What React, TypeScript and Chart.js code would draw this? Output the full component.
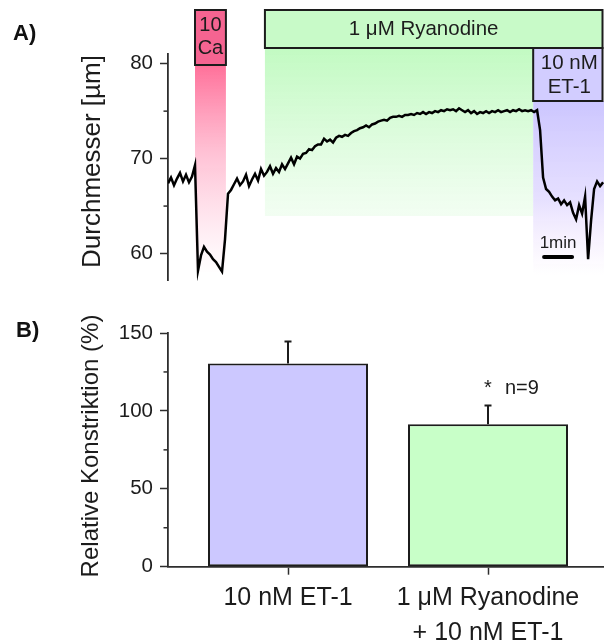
import React, { useEffect, useRef } from "react";
import { Chart, registerables } from "chart.js";

Chart.register(...registerables);

const FONT = '"Liberation Sans", Arial, Helvetica, sans-serif';
const INK = "#1c1c1c";
const AXIS = "#2e2e2e";

// ---- Panel A: vessel diameter (µm), one sample every 0.1 min ----
const SAMPLE_MIN = 0.1;
const DIAMETER = [
  67.4, 68.0, 67.2, 67.9, 68.5, 67.6, 68.3, 67.5, 68.1, 69.3,
  58.2, 59.8, 60.7, 60.2, 59.9, 59.4, 59.1, 58.6, 58.1, 61.5,
  66.3, 66.7, 67.3, 67.9, 67.2, 67.6, 68.3, 67.1, 67.8, 68.4,
  67.7, 68.9, 68.2, 68.6, 69.2, 68.4, 69.0, 68.6, 69.4, 68.9,
  69.5, 70.1, 69.4, 70.2, 70.0, 70.5, 70.6, 71.0, 70.9, 71.3,
  71.5, 71.5, 72.1, 71.8, 72.0, 71.7, 72.2, 72.4, 72.3, 72.5,
  72.4, 72.7, 72.9, 73.0, 73.2, 73.3, 73.5, 73.3, 73.6, 73.7,
  73.9, 74.0, 74.1, 74.0, 74.3, 74.4, 74.4, 74.5, 74.4, 74.6,
  74.6, 74.7, 74.6, 74.8, 74.7, 74.9, 74.7, 74.9, 74.8, 75.0,
  74.9, 75.1, 75.0, 75.2, 75.1, 75.2, 75.0, 75.3, 75.1, 74.9,
  75.1, 74.8, 75.0, 74.7, 74.9, 74.8, 75.0, 74.8, 75.0, 74.9,
  75.1, 74.9, 75.0, 75.1, 74.9, 75.1, 75.0, 75.2, 75.0, 75.1,
  75.0, 75.1, 74.9, 75.1, 73.0, 68.0, 66.8, 66.5, 66.0, 65.6,
  65.8, 65.2, 65.6, 65.1, 65.4, 64.3, 63.6, 65.1, 64.2, 66.0,
  59.4, 63.5, 66.8, 67.6, 67.1, 67.5,
];
const Y_TICKS_A = [60, 65, 70, 75, 80];
const Y_LABELS_A = [60, 70, 80];
const CA_PERIOD_MIN = [0.9, 1.93];
const RYANODINE_START_MIN = 3.23;
const ET1_START_MIN = 12.17;
const SCALE_BAR_MIN = [12.5, 13.5];

// ---- Panel B: relative constriction (%) ----
const CATEGORIES = [["10 nM ET-1"], ["1 μM Ryanodine", "+ 10 nM ET-1"]];
const KONSTRIKTION = [130.5, 91.5];
const KONSTRIKTION_SEM = [14, 12];
const SIGNIFICANT = [false, true];
const N_LABEL = "n=9";
const Y_TICKS_B = [0, 25, 50, 75, 100, 125, 150];
const Y_LABELS_B = [0, 50, 100, 150];
const BAR_FILLS = ["rgb(204,200,255)", "rgb(200,255,200)"];

function drawMinorTicks(chart: any, values: number[], labelled: number[]) {
  const { ctx, chartArea, scales } = chart;
  ctx.save();
  ctx.strokeStyle = AXIS;
  ctx.lineWidth = 1.5;
  for (const v of values) {
    if (labelled.includes(v)) continue;
    const py = scales.y.getPixelForValue(v);
    ctx.beginPath();
    ctx.moveTo(chartArea.left - 4.5, py);
    ctx.lineTo(chartArea.left, py);
    ctx.stroke();
  }
  ctx.restore();
}

function drawSideTitle(ctx: any, text: string, cx: number, cy: number, size: number) {
  ctx.save();
  ctx.translate(cx, cy);
  ctx.rotate(-Math.PI / 2);
  ctx.font = `${size}px ${FONT}`;
  ctx.fillStyle = INK;
  ctx.textAlign = "center";
  ctx.textBaseline = "middle";
  ctx.fillText(text, 0, 0);
  ctx.restore();
}

function drawTag(ctx: any, text: string, x: number, baseline: number) {
  ctx.save();
  ctx.font = `bold 22px ${FONT}`;
  ctx.fillStyle = "#111";
  ctx.textAlign = "left";
  ctx.textBaseline = "alphabetic";
  ctx.fillText(text, x, baseline);
  ctx.restore();
}

function shade(ctx: any, x0: number, x1: number, y0: number, y1: number, stops: [number, string][]) {
  const g = ctx.createLinearGradient(0, y0, 0, y1);
  stops.forEach(([o, c]) => g.addColorStop(o, c));
  ctx.fillStyle = g;
  ctx.fillRect(x0, y0, x1 - x0, y1 - y0);
}

function labelBox(ctx: any, x0: number, x1: number, y0: number, y1: number, fill: string) {
  ctx.fillStyle = fill;
  ctx.fillRect(x0, y0, x1 - x0, y1 - y0);
  ctx.strokeStyle = INK;
  ctx.lineWidth = 2;
  ctx.strokeRect(x0, y0, x1 - x0, y1 - y0);
}

function centerText(ctx: any, text: string, x: number, y: number, size: number) {
  ctx.font = `${size}px ${FONT}`;
  ctx.fillStyle = INK;
  ctx.textAlign = "center";
  ctx.textBaseline = "middle";
  ctx.fillText(text, x, y);
}

// Treatment periods, labels and time scale bar for the diameter trace
const traceDecor = {
  id: "traceDecor",
  beforeDatasetsDraw(chart: any) {
    const { ctx, chartArea, scales } = chart;
    const px = (t: number) => scales.x.getPixelForValue(t);
    ctx.save();
    shade(ctx, px(CA_PERIOD_MIN[0]), px(CA_PERIOD_MIN[1]), 65, 272, [
      [0, "rgba(255,100,145,0.92)"],
      [0.4, "rgba(255,125,165,0.5)"],
      [1, "rgba(255,165,200,0.02)"],
    ]);
    shade(ctx, px(RYANODINE_START_MIN), px(ET1_START_MIN), 48, 216, [
      [0, "rgba(194,250,194,1)"],
      [1, "rgba(205,250,205,0.25)"],
    ]);
    shade(ctx, px(ET1_START_MIN), chartArea.right, 101, 275, [
      [0, "rgba(204,198,255,1)"],
      [0.55, "rgba(212,202,255,0.6)"],
      [1, "rgba(235,210,250,0)"],
    ]);
    ctx.restore();
  },
  afterDraw(chart: any) {
    const { ctx, chartArea, scales } = chart;
    const px = (t: number) => scales.x.getPixelForValue(t);
    const right = chartArea.right - 1.5;
    ctx.save();
    // 10 Ca
    const ca0 = px(CA_PERIOD_MIN[0]);
    const ca1 = px(CA_PERIOD_MIN[1]);
    labelBox(ctx, ca0, ca1, 10, 65, "rgb(245,100,145)");
    centerText(ctx, "10", (ca0 + ca1) / 2, 25, 20);
    centerText(ctx, "Ca", (ca0 + ca1) / 2, 48, 20);
    // 1 µM Ryanodine
    const ry0 = px(RYANODINE_START_MIN);
    labelBox(ctx, ry0, right, 10, 48, "rgb(200,250,200)");
    centerText(ctx, "1 μM Ryanodine", ry0 + (right - ry0) * 0.47, 29.5, 20.5);
    // 10 nM ET-1
    const et0 = px(ET1_START_MIN);
    labelBox(ctx, et0, right, 48, 101, "rgb(210,205,255)");
    centerText(ctx, "10 nM", (et0 + right) / 2 + 1.5, 63.5, 20.5);
    centerText(ctx, "ET-1", (et0 + right) / 2 + 1.5, 87.5, 20.5);
    // 1 min scale bar
    const s0 = px(SCALE_BAR_MIN[0]);
    const s1 = px(SCALE_BAR_MIN[1]);
    ctx.strokeStyle = "#000";
    ctx.lineWidth = 4;
    ctx.lineCap = "round";
    ctx.beginPath();
    ctx.moveTo(s0 + 1, 257);
    ctx.lineTo(s1 - 1, 257);
    ctx.stroke();
    ctx.font = `17px ${FONT}`;
    ctx.fillStyle = INK;
    ctx.textAlign = "center";
    ctx.textBaseline = "alphabetic";
    ctx.fillText("1min", (s0 + s1) / 2, 248);
    ctx.restore();

    drawMinorTicks(chart, Y_TICKS_A, Y_LABELS_A);
    drawSideTitle(ctx, "Durchmesser [µm]", 92.5, 161.5, 26);
    drawTag(ctx, "A)", 13, 40);
  },
};

// Error bars, significance mark and labels for the bar panel
const barDecor = {
  id: "barDecor",
  afterDatasetsDraw(chart: any) {
    const { ctx, scales } = chart;
    const bars = chart.getDatasetMeta(0).data;
    ctx.save();
    ctx.strokeStyle = INK;
    ctx.lineWidth = 2;
    bars.forEach((bar: any, i: number) => {
      const top = scales.y.getPixelForValue(KONSTRIKTION[i] + KONSTRIKTION_SEM[i]);
      ctx.beginPath();
      ctx.moveTo(bar.x, bar.y);
      ctx.lineTo(bar.x, top);
      ctx.moveTo(bar.x - 3.5, top);
      ctx.lineTo(bar.x + 3.5, top);
      ctx.stroke();
      if (SIGNIFICANT[i]) {
        ctx.fillStyle = INK;
        ctx.font = `20px ${FONT}`;
        ctx.textBaseline = "alphabetic";
        ctx.textAlign = "center";
        ctx.fillText("*", bar.x, top - 11);
        ctx.textAlign = "left";
        ctx.fillText(N_LABEL, bar.x + 17, top - 11);
      }
    });
    ctx.restore();
  },
  afterDraw(chart: any) {
    drawMinorTicks(chart, Y_TICKS_B, Y_LABELS_B);
    drawSideTitle(chart.ctx, "Relative Konstriktion (%)", 91, 146, 24);
    drawTag(chart.ctx, "B)", 16, 37);
  },
};

export default function App() {
  const refA = useRef<HTMLCanvasElement>(null);
  const refB = useRef<HTMLCanvasElement>(null);

  useEffect(() => {
    const trace = DIAMETER.map((v, i) => ({ x: i * SAMPLE_MIN, y: v }));
    const tickFont = { family: FONT, size: 20.5 };

    const chartA = new Chart(refA.current as HTMLCanvasElement, {
      type: "line",
      data: {
        datasets: [
          {
            data: trace,
            borderColor: "#000",
            borderWidth: 2.5,
            pointRadius: 0,
            tension: 0,
            fill: false,
          },
        ],
      },
      options: {
        animation: false,
        responsive: false,
        events: [],
        layout: { padding: { left: 77, top: 54, right: 0, bottom: 12 } },
        plugins: { legend: { display: false }, tooltip: { enabled: false } },
        scales: {
          x: { type: "linear", min: 0, max: 14.53, display: false },
          y: {
            min: 57.14,
            max: 81.02,
            afterBuildTicks: (s: any) => {
              s.ticks = Y_TICKS_A.map((v) => ({ value: v }));
            },
            afterFit: (s: any) => {
              s.width = 91;
            },
            ticks: {
              font: tickFont,
              color: INK,
              padding: 7,
              callback: (v: any) => (Y_LABELS_A.includes(v) ? String(v) : ""),
            },
            grid: {
              drawOnChartArea: false,
              tickLength: 8,
              tickWidth: 1.5,
              tickColor: (c: any) => (Y_LABELS_A.includes(c.tick?.value) ? AXIS : "rgba(0,0,0,0)"),
            },
            border: { color: AXIS, width: 1.8 },
          },
        },
      } as any,
      plugins: [traceDecor],
    });

    const chartB = new Chart(refB.current as HTMLCanvasElement, {
      type: "bar",
      data: {
        datasets: [
          {
            data: KONSTRIKTION.map((v, i) => ({ x: i + 1, y: v })),
            backgroundColor: BAR_FILLS,
            borderColor: INK,
            borderWidth: 2,
            borderSkipped: false,
            barPercentage: 0.8,
            categoryPercentage: 1,
          },
        ],
      },
      options: {
        animation: false,
        responsive: false,
        events: [],
        layout: { padding: { left: 77, top: 33, right: 0, bottom: 0 } },
        plugins: { legend: { display: false }, tooltip: { enabled: false } },
        scales: {
          x: {
            type: "linear",
            min: 0.4,
            max: 2.58,
            offset: false,
            afterBuildTicks: (s: any) => {
              s.ticks = CATEGORIES.map((_, i) => ({ value: i + 1 }));
            },
            afterFit: (s: any) => {
              s.height = 77.3;
            },
            ticks: {
              autoSkip: false,
              maxRotation: 0,
              font: { family: FONT, size: 25, lineHeight: 1.4 },
              color: INK,
              padding: 6,
              callback: (v: any) => CATEGORIES[Math.round(v) - 1],
            },
            grid: { offset: false, drawOnChartArea: false, tickLength: 8, tickWidth: 1.5, tickColor: AXIS },
            border: { color: AXIS, width: 1.8 },
          },
          y: {
            min: 0,
            max: 150,
            afterBuildTicks: (s: any) => {
              s.ticks = Y_TICKS_B.map((v) => ({ value: v }));
            },
            afterFit: (s: any) => {
              s.width = 91;
            },
            ticks: {
              font: tickFont,
              color: INK,
              padding: 7,
              callback: (v: any) => (Y_LABELS_B.includes(v) ? String(v) : ""),
            },
            grid: {
              drawOnChartArea: false,
              tickLength: 8,
              tickWidth: 1.5,
              tickColor: (c: any) => (Y_LABELS_B.includes(c.tick?.value) ? AXIS : "rgba(0,0,0,0)"),
            },
            border: { color: AXIS, width: 1.8 },
          },
        },
      } as any,
      plugins: [barDecor],
    });

    return () => {
      chartA.destroy();
      chartB.destroy();
    };
  }, []);

  return (
    <div style={{ position: "fixed", left: 0, top: 0, width: 604, height: 644, background: "#fff" }}>
      <canvas
        ref={refA}
        width={604}
        height={300}
        style={{ position: "absolute", left: 0, top: 0, width: 604, height: 300 }}
      />
      <canvas
        ref={refB}
        width={604}
        height={344}
        style={{ position: "absolute", left: 0, top: 300, width: 604, height: 344 }}
      />
    </div>
  );
}
